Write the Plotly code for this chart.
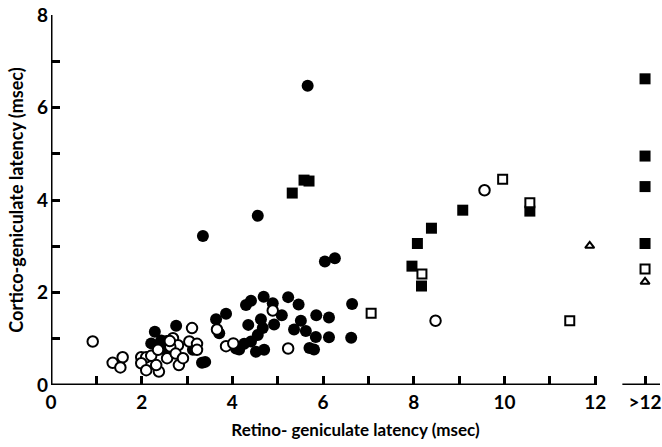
import plotly.graph_objects as go

# ---------------- data (msec) ----------------
# filled circles
fc_x = [2.29, 2.21, 2.43, 2.55, 2.76, 2.55, 3.13, 3.16, 3.33, 3.40, 3.64, 3.86, 3.71, 3.35,
        4.30, 4.41, 4.69, 4.89, 4.63, 4.67, 4.56, 4.41, 4.26, 4.15, 4.52, 4.70, 4.08, 4.56,
        5.23, 5.46, 5.09, 5.51, 5.36, 4.92, 5.62, 5.85, 5.84, 5.80, 5.70, 6.13, 6.13, 6.64,
        6.62, 5.66, 6.04, 6.26, 4.35]
fc_y = [1.15, 0.90, 0.96, 0.95, 1.28, 0.75, 0.76, 0.85, 0.48, 0.50, 1.42, 1.54, 1.12, 3.22,
        1.73, 1.82, 1.91, 1.77, 1.42, 1.23, 1.08, 0.94, 0.89, 0.77, 0.72, 0.76, 0.79, 3.66,
        1.90, 1.74, 1.51, 1.39, 1.20, 1.31, 1.17, 1.51, 1.04, 0.77, 0.80, 1.46, 1.03, 1.75,
        1.02, 6.47, 2.67, 2.74, 1.30]
# open circles
oc_x = [0.92, 1.36, 1.58, 1.53, 1.99, 2.10, 1.99, 2.10, 2.38, 2.32, 2.21, 2.36, 2.56, 2.69,
        2.80, 2.63, 2.75, 2.82, 2.91, 2.62, 3.11, 3.05, 3.22, 3.22, 3.66, 3.86, 4.02, 4.89,
        5.23, 9.56, 8.48]
oc_y = [0.94, 0.48, 0.60, 0.38, 0.60, 0.60, 0.47, 0.32, 0.29, 0.43, 0.63, 0.76, 0.58, 1.01,
        0.86, 0.83, 0.68, 0.43, 0.58, 0.95, 1.23, 0.94, 0.89, 0.76, 1.20, 0.84, 0.90, 1.61,
        0.79, 4.21, 1.39]
# filled squares
fs_x = [5.32, 5.58, 5.69, 7.96, 8.08, 8.17, 8.39, 9.08, 10.56]
fs_y = [4.15, 4.43, 4.41, 2.57, 3.06, 2.14, 3.39, 3.78, 3.76]
# open squares
os_x = [7.06, 8.18, 9.96, 10.56, 11.44]
os_y = [1.55, 2.40, 4.45, 3.94, 1.39]
# open triangles
ot_x = [11.88]
ot_y = [3.01]
# retino-geniculate latency > 12 msec (plotted in the ">12" column)
gt12_fs_y = [6.62, 4.95, 4.29, 3.06]
gt12_os_y = [2.51]
gt12_ot_y = [2.23]

x_tick_vals = list(range(0, 13)) + [13.1]
x_tick_text = ["0", "", "2", "", "4", "", "6", "", "8", "", "10", "", "12", ">12"]
y_tick_vals = list(range(0, 9))
y_tick_text = ["0", "", "2", "", "4", "", "6", "", "8"]

GT12 = x_tick_vals[-1]

fig = go.Figure()

def add(xs, ys, symbol, filled, size):
    fig.add_trace(go.Scatter(
        x=xs, y=ys, mode="markers", cliponaxis=False, showlegend=False,
        marker=dict(symbol=symbol, size=size,
                    color="black" if filled else "white",
                    line=dict(color="black", width=2 if not filled else 0))))

add(fc_x, fc_y, "circle", True, 12)
add(oc_x, oc_y, "circle", False, 10.5)
add(fs_x + [GT12] * len(gt12_fs_y), fs_y + gt12_fs_y, "square", True, 11)
add(os_x + [GT12] * len(gt12_os_y), os_y + gt12_os_y, "square", False, 9)
add(ot_x + [GT12] * len(gt12_ot_y), ot_y + gt12_ot_y, "triangle-up", False, 8)

# axis lines (x axis broken between 12 and >12)
axw = 3
fig.add_shape(type="line", xref="x", yref="y", x0=0, x1=12, y0=0, y1=0,
              line=dict(color="black", width=axw))
fig.add_shape(type="line", xref="x", yref="y", x0=12.6, x1=13.5, y0=0, y1=0,
              line=dict(color="black", width=axw))
fig.add_shape(type="line", xref="x", yref="y", x0=0, x1=0, y0=0, y1=8,
              line=dict(color="black", width=axw))

tickfont = dict(family="Lato", size=19, color="black", weight="bold")
fig.update_layout(
    width=662, height=447,
    margin=dict(l=51, r=0, t=15, b=62),
    paper_bgcolor="white", plot_bgcolor="white",
    xaxis=dict(range=[0, 13.43], showgrid=False, zeroline=False, showline=False,
               tickmode="array", tickvals=x_tick_vals, ticktext=x_tick_text,
               ticks="inside", ticklen=9, tickwidth=2.5, tickcolor="black",
               tickfont=tickfont, ticklabelstandoff=4, ticklabeloverflow="allow",
               title=dict(text="Retino- geniculate latency (msec)",
                          font=dict(family="Lato", size=17, color="black", weight="bold"),
                          standoff=12)),
    yaxis=dict(range=[0, 8], showgrid=False, zeroline=False, showline=False,
               tickmode="array", tickvals=y_tick_vals, ticktext=y_tick_text,
               ticks="inside", ticklen=9, tickwidth=2.5, tickcolor="black",
               tickfont=tickfont, ticklabelstandoff=2,
               title=dict(text="Cortico-geniculate latency (msec)",
                          font=dict(family="Lato", size=18, color="black", weight="bold"),
                          standoff=8)),
)

fig.write_html("out.html")
